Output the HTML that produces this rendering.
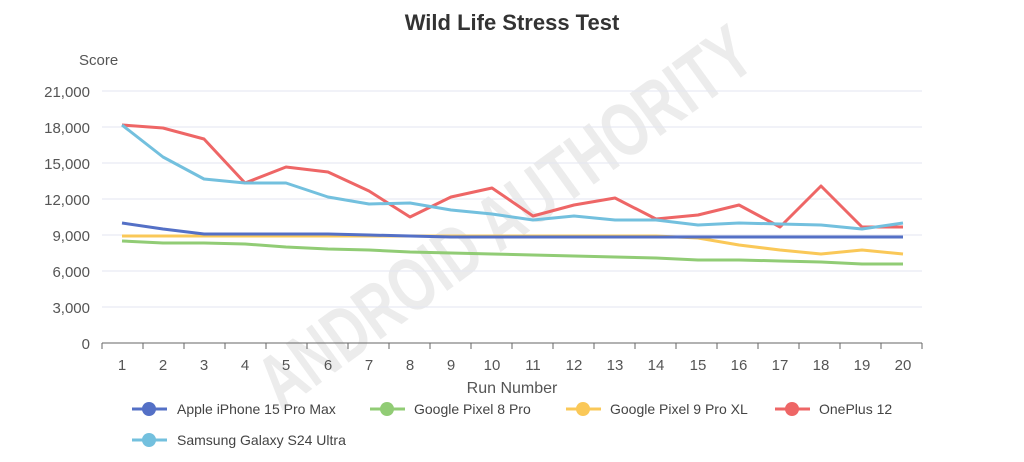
<!DOCTYPE html>
<html><head><meta charset="utf-8"><style>
body{margin:0;background:#fff;width:1024px;height:457px;overflow:hidden;font-family:"Liberation Sans",sans-serif}
</style></head><body>
<svg width="1024" height="457" xmlns="http://www.w3.org/2000/svg" font-family="Liberation Sans, sans-serif">
<text x="0" y="0" transform="translate(520 238) rotate(-36)" text-anchor="middle" font-family="Liberation Sans Narrow, Liberation Sans, sans-serif" font-size="76" font-weight="bold" fill="#ececec" textLength="590" lengthAdjust="spacingAndGlyphs">ANDROID AUTHORITY</text>
<text x="512" y="30" text-anchor="middle" font-size="22" font-weight="bold" fill="#333">Wild Life Stress Test</text>
<text x="79" y="65" font-size="15" fill="#555">Score</text>
<g stroke="#e3e6f0" stroke-width="1">
<line x1="102" x2="922" y1="91" y2="91"/><line x1="102" x2="922" y1="127" y2="127"/>
<line x1="102" x2="922" y1="163" y2="163"/><line x1="102" x2="922" y1="199" y2="199"/>
<line x1="102" x2="922" y1="235" y2="235"/><line x1="102" x2="922" y1="271" y2="271"/>
<line x1="102" x2="922" y1="307" y2="307"/>
</g>
<line x1="102" x2="922" y1="343" y2="343" stroke="#666" stroke-width="1"/>
<g stroke="#666">
<line x1="102" x2="102" y1="343" y2="349"/><line x1="143" x2="143" y1="343" y2="349"/><line x1="184" x2="184" y1="343" y2="349"/><line x1="225" x2="225" y1="343" y2="349"/><line x1="266" x2="266" y1="343" y2="349"/><line x1="307" x2="307" y1="343" y2="349"/><line x1="348" x2="348" y1="343" y2="349"/><line x1="389" x2="389" y1="343" y2="349"/><line x1="430" x2="430" y1="343" y2="349"/><line x1="471" x2="471" y1="343" y2="349"/><line x1="512" x2="512" y1="343" y2="349"/><line x1="553" x2="553" y1="343" y2="349"/><line x1="594" x2="594" y1="343" y2="349"/><line x1="635" x2="635" y1="343" y2="349"/><line x1="676" x2="676" y1="343" y2="349"/><line x1="717" x2="717" y1="343" y2="349"/><line x1="758" x2="758" y1="343" y2="349"/><line x1="799" x2="799" y1="343" y2="349"/><line x1="840" x2="840" y1="343" y2="349"/><line x1="881" x2="881" y1="343" y2="349"/><line x1="922" x2="922" y1="343" y2="349"/>
</g>
<g font-size="15" fill="#555" text-anchor="end">
<text x="90" y="97">21,000</text><text x="90" y="133">18,000</text><text x="90" y="169">15,000</text><text x="90" y="205">12,000</text><text x="90" y="241">9,000</text><text x="90" y="277">6,000</text><text x="90" y="313">3,000</text><text x="90" y="349">0</text>
</g>
<g font-size="15" fill="#555" text-anchor="middle">
<text x="122" y="370">1</text><text x="163" y="370">2</text><text x="204" y="370">3</text><text x="245" y="370">4</text><text x="286" y="370">5</text><text x="328" y="370">6</text><text x="369" y="370">7</text><text x="410" y="370">8</text><text x="451" y="370">9</text><text x="492" y="370">10</text><text x="533" y="370">11</text><text x="574" y="370">12</text><text x="615" y="370">13</text><text x="656" y="370">14</text><text x="698" y="370">15</text><text x="739" y="370">16</text><text x="780" y="370">17</text><text x="821" y="370">18</text><text x="862" y="370">19</text><text x="903" y="370">20</text>
<text x="512" y="393" font-size="16">Run Number</text>
</g>
<g fill="none" stroke-width="3" stroke-linejoin="round">
<polyline stroke="#91cc75" points="122,241 163,243 204,243 245,244 286,247 328,249 369,250 410,252 451,253 492,254 533,255 574,256 615,257 656,258 698,260 739,260 780,261 821,262 862,264 903,264"/>
<polyline stroke="#fac858" points="122,236 163,236 204,236 245,236 286,236 328,236 369,236 410,236 451,236 492,236 533,236 574,236 615,236 656,236 698,238 739,245 780,250 821,254 862,250 903,254"/>
<polyline stroke="#5470c6" points="122,223 163,229 204,234 245,234 286,234 328,234 369,235 410,236 451,237 492,237 533,237 574,237 615,237 656,237 698,237 739,237 780,237 821,237 862,237 903,237"/>
<polyline stroke="#ee6666" points="122,125 163,128 204,139 245,183 286,167 328,172 369,191 410,217 451,197 492,188 533,216 574,205 615,198 656,219 698,215 739,205 780,227 821,186 862,227 903,227"/>
<polyline stroke="#73c0de" points="122,125 163,157 204,179 245,183 286,183 328,197 369,204 410,203 451,210 492,214 533,220 574,216 615,220 656,220 698,225 739,223 780,224 821,225 862,229 903,223"/>
</g>
<g font-size="14" fill="#444">
<line x1="132" x2="167" y1="409" y2="409" stroke="#5470c6" stroke-width="3"/><circle cx="149" cy="409" r="7" fill="#5470c6"/><text x="177" y="414">Apple iPhone 15 Pro Max</text>
<line x1="370" x2="405" y1="409" y2="409" stroke="#91cc75" stroke-width="3"/><circle cx="387" cy="409" r="7" fill="#91cc75"/><text x="414" y="414">Google Pixel 8 Pro</text>
<line x1="566" x2="601" y1="409" y2="409" stroke="#fac858" stroke-width="3"/><circle cx="583" cy="409" r="7" fill="#fac858"/><text x="610" y="414">Google Pixel 9 Pro XL</text>
<line x1="775" x2="810" y1="409" y2="409" stroke="#ee6666" stroke-width="3"/><circle cx="792" cy="409" r="7" fill="#ee6666"/><text x="819" y="414">OnePlus 12</text>
<line x1="132" x2="167" y1="440" y2="440" stroke="#73c0de" stroke-width="3"/><circle cx="149" cy="440" r="7" fill="#73c0de"/><text x="177" y="445">Samsung Galaxy S24 Ultra</text>
</g>
</svg>
</body></html>
